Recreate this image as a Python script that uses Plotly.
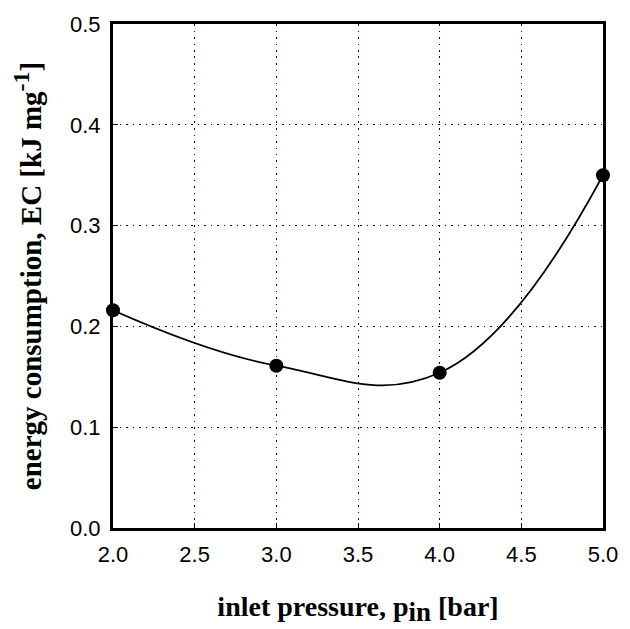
import plotly.graph_objects as go

pressure = [2.0, 3.0, 4.0, 5.0]
energy = [0.216, 0.161, 0.154, 0.350]
x_ticks = [2.0, 2.5, 3.0, 3.5, 4.0, 4.5, 5.0]
y_ticks = [0.0, 0.1, 0.2, 0.3, 0.4, 0.5]

fig = go.Figure()
fig.add_trace(go.Scatter(
    x=pressure, y=energy, mode="lines",
    line=dict(color="black", width=1.8, shape="spline", smoothing=1.2),
    hoverinfo="skip", showlegend=False))
fig.add_trace(go.Scatter(
    x=pressure, y=energy, mode="markers",
    marker=dict(color="black", size=14),
    showlegend=False, cliponaxis=False))

axis_common = dict(
    showline=True, linecolor="black", linewidth=3, mirror=True,
    showgrid=True, gridcolor="#00008B", griddash="1.5px,5px", gridwidth=1.2,
    ticks="inside", ticklen=5, tickcolor="black", tickwidth=1,
    zeroline=False,
    tickfont=dict(family="Liberation Sans, Arial", size=22, color="black"),
)

title_font = dict(family="Liberation Serif, Times New Roman", size=29, color="black")

fig.update_xaxes(
    range=[2.0, 5.0], tickvals=x_ticks,
    ticktext=[f"{v:.1f}" for v in x_ticks],
    title=dict(text="<b>inlet pressure, p<sub><span style=\"font-size:27px\">in</span></sub> [bar]</b>",
               font=dict(family="Liberation Serif, Times New Roman", size=28, color="black"),
               standoff=30),
    ticklabelstandoff=5,
    **axis_common)
fig.update_yaxes(
    range=[0.0, 0.5], tickvals=y_ticks,
    ticktext=[f"{v:.1f}" for v in y_ticks],
    title=dict(text="<b>energy consumption, EC [kJ mg<sup><span style=\"font-size:24px\">-1</span></sup>]</b>",
               font=title_font, standoff=20),
    ticklabelstandoff=5,
    **axis_common)

fig.update_layout(
    width=630, height=629,
    margin=dict(l=113, r=19, t=18, b=101),
    plot_bgcolor="white", paper_bgcolor="white",
)

fig.write_html("out.html")
